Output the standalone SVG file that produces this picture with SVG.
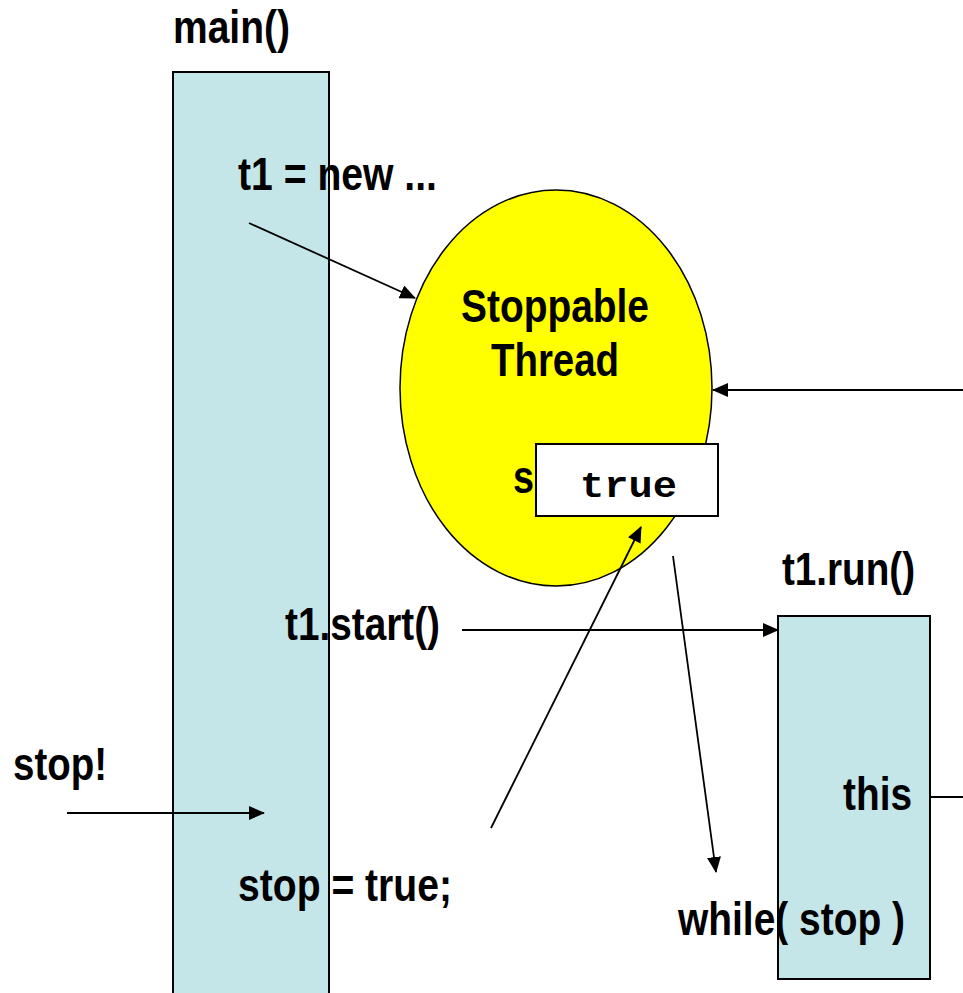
<svg xmlns="http://www.w3.org/2000/svg" width="963" height="993" viewBox="0 0 963 993">
<defs>
<style>
.t{font-family:"Liberation Sans Narrow","Liberation Sans",Arial,sans-serif;font-weight:bold;font-size:46px;fill:#000}
.m{font-family:"Liberation Mono","Courier New",monospace;font-weight:bold;font-size:37px;fill:#000}
.box{fill:#C5E6E8;stroke:none}
.edge{fill:none;stroke:#000;stroke-width:2}
.ln{stroke:#000;stroke-width:1.8;fill:none}
</style>
<marker id="ah" markerWidth="16" markerHeight="14" refX="15" refY="7" orient="auto" markerUnits="userSpaceOnUse">
<path d="M0,0 L16,7 L0,14 z" fill="#000"/>
</marker>
</defs>
<rect width="963" height="993" fill="#fff"/>
<g id="main">
<rect class="box" x="173" y="72" width="156" height="930"/>
<text class="t" x="173" y="43" textLength="117" lengthAdjust="spacingAndGlyphs">main()</text>
<text class="t" x="238" y="190" textLength="199" lengthAdjust="spacingAndGlyphs">t1 = new ...</text>
<text class="t" x="285" y="640" textLength="155" lengthAdjust="spacingAndGlyphs">t1.start()</text>
<text class="t" x="238" y="901" textLength="214" lengthAdjust="spacingAndGlyphs">stop = true;</text>
<rect class="edge" x="173" y="72" width="156" height="930"/>
</g>
<g id="thread">
<ellipse cx="556" cy="388" rx="156" ry="198" fill="#FFFF00" stroke="#000" stroke-width="1.5"/>
<text class="t" x="555" y="322" text-anchor="middle" textLength="188" lengthAdjust="spacingAndGlyphs">Stoppable</text>
<text class="t" x="555" y="376" text-anchor="middle" textLength="128" lengthAdjust="spacingAndGlyphs">Thread</text>
<text class="t" x="513" y="493" textLength="21" lengthAdjust="spacingAndGlyphs">s</text>
</g>
<g id="flag">
<rect x="536" y="444" width="182" height="72" fill="#fff" stroke="#000" stroke-width="2"/>
<text class="m" x="580" y="497" textLength="97" lengthAdjust="spacingAndGlyphs">true</text>
</g>
<g id="run">
<rect class="box" x="778" y="616" width="152" height="363"/>
<text class="t" x="782" y="585" textLength="133" lengthAdjust="spacingAndGlyphs">t1.run()</text>
<text class="t" x="843" y="810" textLength="69" lengthAdjust="spacingAndGlyphs">this</text>
<text class="t" x="678" y="935" textLength="227" lengthAdjust="spacingAndGlyphs">while( stop )</text>
<rect class="edge" x="778" y="616" width="152" height="363"/>
</g>
<g id="labels">
<text class="t" x="13" y="780" textLength="94" lengthAdjust="spacingAndGlyphs">stop!</text>
</g>
<g id="connectors">
<line class="ln" x1="249" y1="223" x2="415" y2="298" marker-end="url(#ah)"/>
<line class="ln" x1="963" y1="390" x2="713" y2="390" marker-end="url(#ah)"/>
<line class="ln" x1="491" y1="828" x2="641" y2="527" marker-end="url(#ah)"/>
<line class="ln" x1="673" y1="556" x2="716" y2="872" marker-end="url(#ah)"/>
<line class="ln" x1="462" y1="630" x2="778" y2="630" marker-end="url(#ah)"/>
<line class="ln" x1="930" y1="797" x2="963" y2="797"/>
<line class="ln" x1="67" y1="813" x2="264" y2="813" marker-end="url(#ah)"/>
</g>
</svg>
